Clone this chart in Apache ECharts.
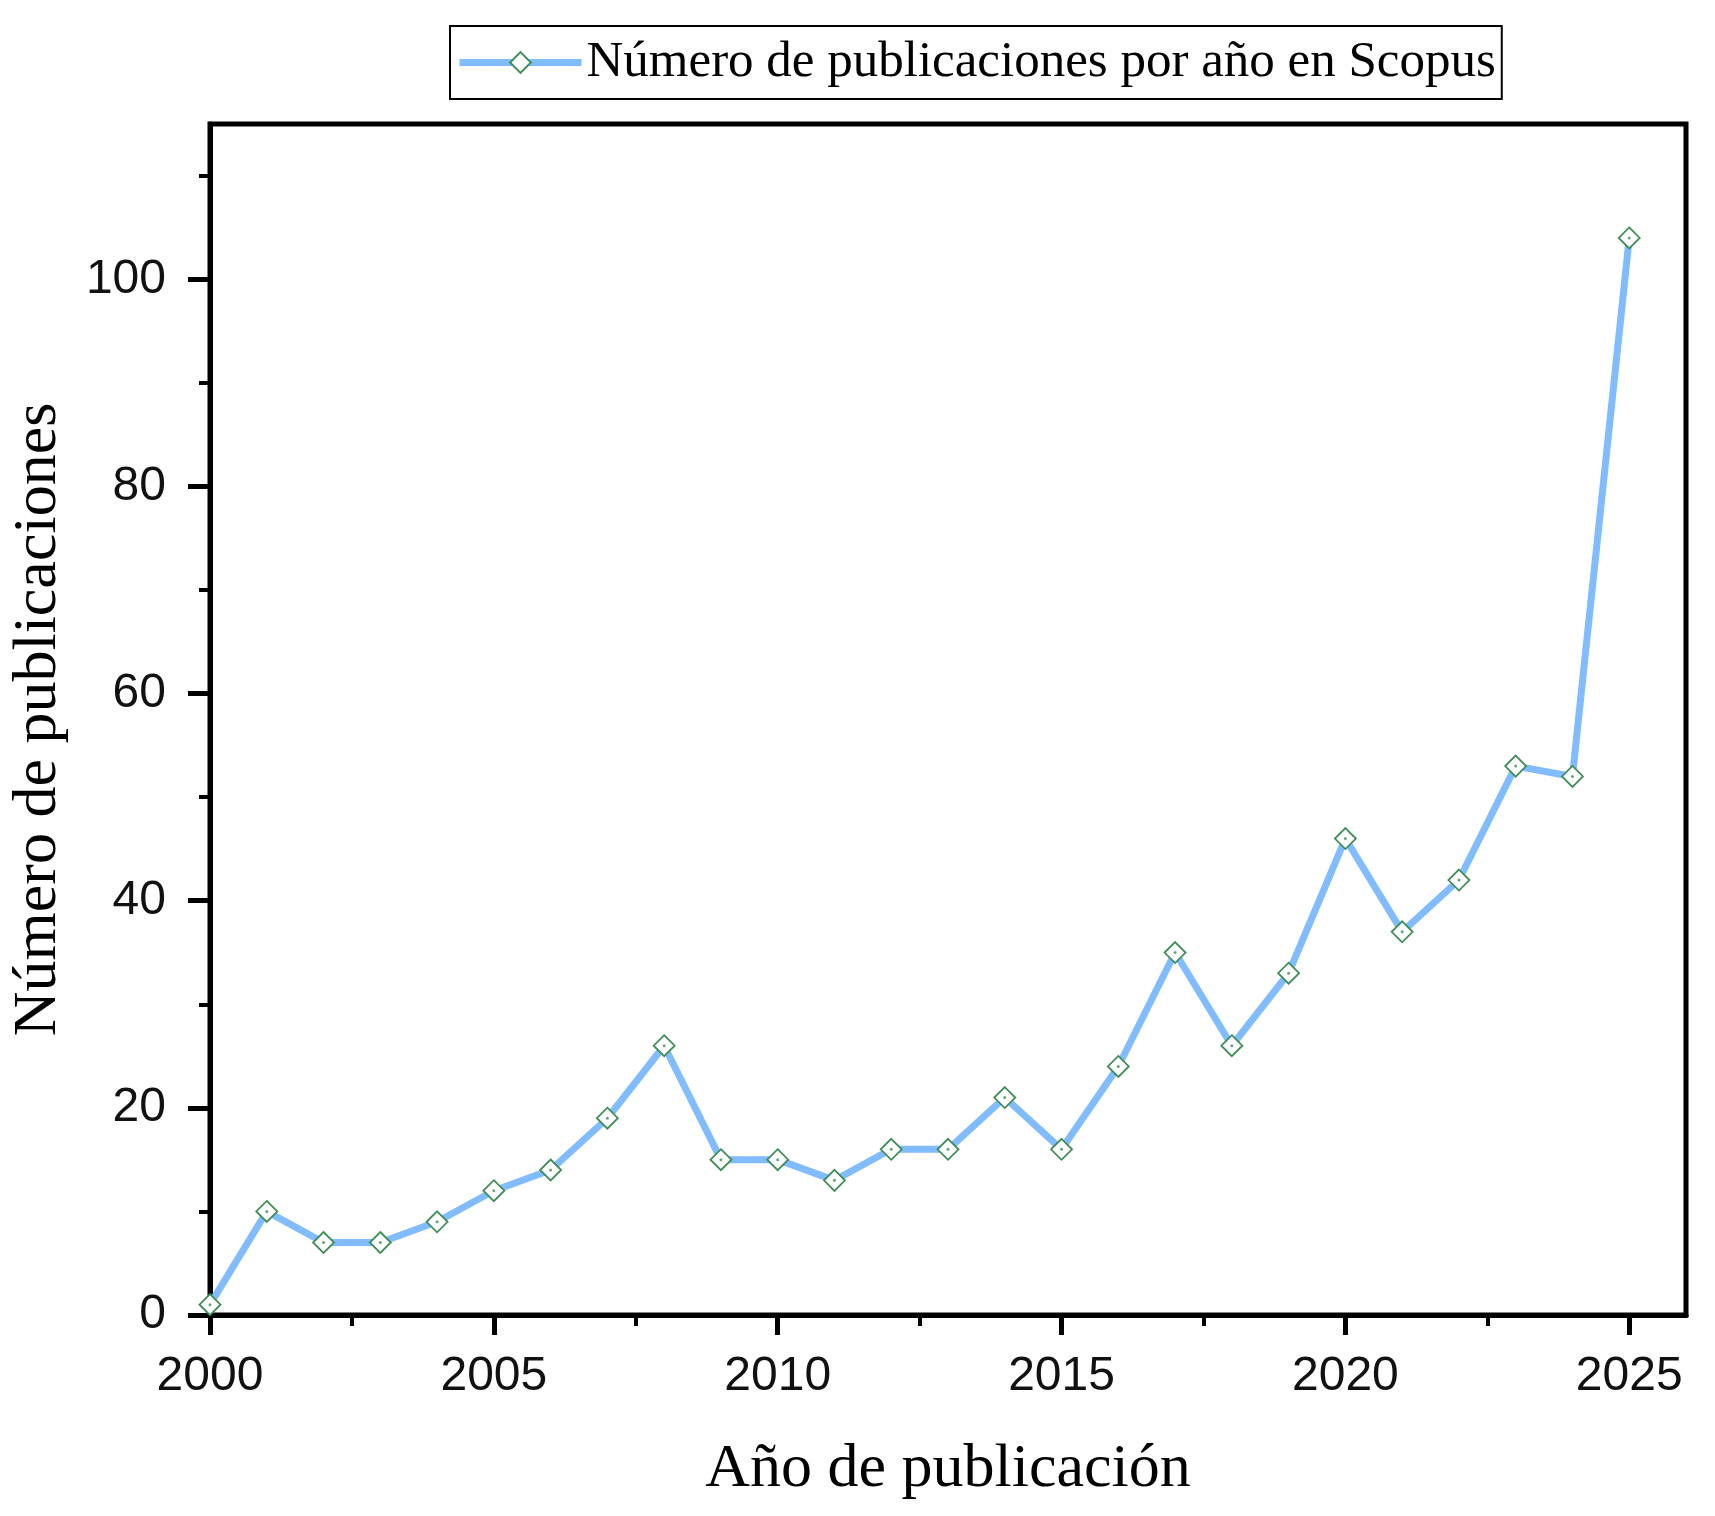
<!DOCTYPE html>
<html>
<head>
<meta charset="utf-8">
<script src="https://cdn.jsdelivr.net/npm/echarts@6/dist/echarts.min.js"></script>
<style>
html,body{margin:0;padding:0;background:#fff;}
#chart{width:1715px;height:1516px;}
</style>
</head>
<body>
<div id="chart"></div>
<script>
const years = [2000,2001,2002,2003,2004,2005,2006,2007,2008,2009,2010,2011,2012,2013,2014,2015,2016,2017,2018,2019,2020,2021,2022,2023,2024,2025];
const publications = [1,10,7,7,9,12,14,19,26,15,15,13,16,16,21,16,24,35,26,33,46,37,42,53,52,104];
const xMajorTicks = [2000,2005,2010,2015,2020,2025];
const xMinorTicks = [2002.5,2007.5,2012.5,2017.5,2022.5];
const yMajorTicks = [0,20,40,60,80,100];
const yMinorTicks = [10,30,50,70,90,110];
const seriesName = 'Número de publicaciones por año en Scopus';
const xTitle = 'Año de publicación';
const yTitle = 'Número de publicaciones';

const points = years.map((y, i) => [y, publications[i]]);

const chart = echarts.init(document.getElementById('chart'), null, {renderer: 'canvas'});
const sans = 'Liberation Sans, Arial, sans-serif';
const serif = 'Liberation Serif, Times New Roman, serif';
const lineColor = '#80BCFF';
const markColor = '#3E8E55';

chart.setOption({
  animation: false,
  backgroundColor: '#fff',
  grid: {
    left: 207, right: 29, top: 124, bottom: 201,
    show: true, borderColor: '#000', borderWidth: 5, backgroundColor: 'transparent'
  },
  legend: {
    data: [seriesName],
    left: 450, top: 26,
    borderColor: '#000', borderWidth: 2,
    padding: [11, 6, 11, 6],
    itemWidth: 122, itemHeight: 26,
    lineStyle: {width: 7, color: lineColor},
    textStyle: {fontFamily: serif, fontSize: 51, color: '#000'}
  },
  xAxis: [{
    type: 'value', min: 2000, max: 2026,
    name: xTitle, nameLocation: 'middle', nameGap: 124,
    nameTextStyle: {fontFamily: serif, fontSize: 62, color: '#000'},
    axisLine: {show: true, onZero: false, lineStyle: {color: '#000', width: 5}},
    axisTick: {show: true, inside: false, length: 20, lineStyle: {color: '#000', width: 5}, customValues: xMajorTicks},
    axisLabel: {show: true, margin: 38, fontFamily: sans, fontSize: 48, color: '#111', customValues: xMajorTicks,
      formatter: v => String(v)},
    splitLine: {show: false}
  }, {
    type: 'value', min: 2000, max: 2026, position: 'bottom',
    axisLine: {show: false},
    axisTick: {show: true, inside: false, length: 11, lineStyle: {color: '#000', width: 4}, customValues: xMinorTicks},
    axisLabel: {show: false},
    splitLine: {show: false}
  }],
  yAxis: [{
    type: 'value', min: 0, max: 115,
    name: yTitle, nameLocation: 'middle', nameGap: 140, nameRotate: 90,
    nameTextStyle: {fontFamily: serif, fontSize: 62, color: '#000'},
    axisLine: {show: true, onZero: false, lineStyle: {color: '#000', width: 5}},
    axisTick: {show: true, inside: false, length: 22, lineStyle: {color: '#000', width: 5}, customValues: yMajorTicks},
    axisLabel: {show: true, margin: 44, fontFamily: sans, fontSize: 48, color: '#111', customValues: yMajorTicks},
    splitLine: {show: false}
  }, {
    type: 'value', min: 0, max: 115, position: 'left',
    axisLine: {show: false},
    axisTick: {show: true, inside: false, length: 11, lineStyle: {color: '#000', width: 4}, customValues: yMinorTicks},
    axisLabel: {show: false},
    splitLine: {show: false}
  }],
  series: [{
    name: seriesName,
    type: 'line',
    xAxisIndex: 0, yAxisIndex: 0,
    data: points,
    symbol: 'diamond',
    symbolSize: 21,
    showAllSymbol: true,
    lineStyle: {color: lineColor, width: 7},
    itemStyle: {color: '#ffffff', borderColor: markColor, borderWidth: 1.8},
    emphasis: {disabled: true},
    z: 3
  }, {
    name: 'dots',
    type: 'scatter',
    xAxisIndex: 0, yAxisIndex: 0,
    data: points,
    symbol: 'circle',
    symbolSize: 3,
    itemStyle: {color: markColor},
    emphasis: {disabled: true},
    silent: true,
    z: 4
  }]
});
</script>
</body>
</html>
